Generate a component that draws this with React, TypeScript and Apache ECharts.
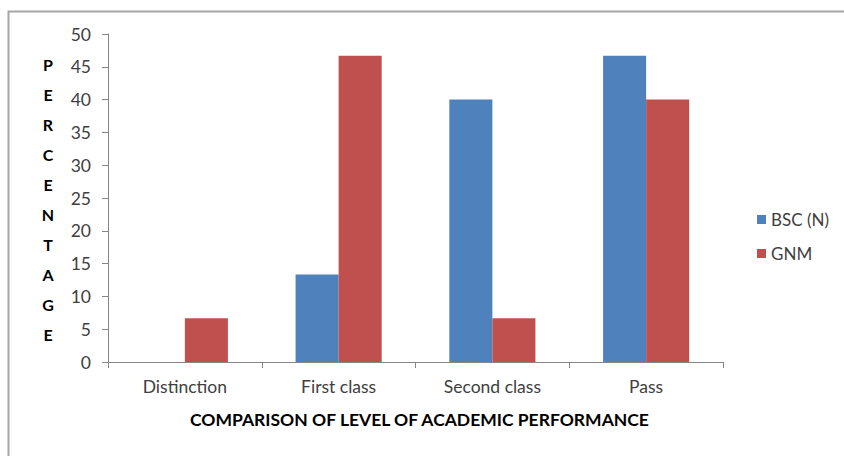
import React, { useEffect, useRef } from "react";
import * as echarts from "echarts";

const categories = ["Distinction", "First class", "Second class", "Pass"];
const bscValues = [0, 13.33, 40, 46.67];
const gnmValues = [6.67, 46.67, 6.67, 40];
const seriesNames = ["BSC (N)", "GNM"];
const yTicks = { min: 0, max: 50, interval: 5 };
const yAxisTitle = "PERCENTAGE";
const xAxisTitle = "COMPARISON OF LEVEL OF ACADEMIC PERFORMANCE";

export default function App() {
  const ref = useRef<HTMLDivElement>(null);
  useEffect(() => {
    if (!ref.current) return;
    const chart = echarts.init(ref.current, undefined, { renderer: "svg" });
    const font = "Lato, 'Open Sans', sans-serif";
    chart.setOption({
      animation: false,
      backgroundColor: "#ffffff",
      textStyle: { fontFamily: font },
      grid: { left: 108, right: 121, top: 34, bottom: 94, containLabel: false },
      legend: {
        orient: "vertical",
        left: 752,
        top: 206,
        itemWidth: 9,
        itemHeight: 9,
        itemGap: 17,
        icon: "rect",
        textStyle: { fontSize: 17, color: "#404040", fontFamily: font },
        data: seriesNames,
      },
      xAxis: {
        type: "category",
        data: categories,
        axisLine: { lineStyle: { color: "#868686", width: 1 } },
        axisTick: { show: true, alignWithLabel: false, length: 6, lineStyle: { color: "#868686" } },
        axisLabel: { fontSize: 17.5, color: "#404040", margin: 15, fontFamily: font },
        splitLine: { show: false },
      },
      yAxis: {
        type: "value",
        min: yTicks.min,
        max: yTicks.max,
        interval: yTicks.interval,
        axisLine: { show: true, lineStyle: { color: "#868686", width: 1 } },
        axisTick: { show: true, length: 6, lineStyle: { color: "#868686" } },
        axisLabel: { fontSize: 17.5, color: "#404040", margin: 17, fontFamily: font },
        splitLine: { show: false },
      },
      series: [
        {
          name: seriesNames[0],
          type: "bar",
          data: bscValues,
          barGap: "0%",
          barCategoryGap: "44%",
          itemStyle: { color: "#4F81BD" },
        },
        {
          name: seriesNames[1],
          type: "bar",
          data: gnmValues,
          barGap: "0%",
          barCategoryGap: "44%",
          itemStyle: { color: "#C0504D" },
        },
      ],
      graphic: [
        {
          type: "rect",
          shape: { x: 8.5, y: 11.5, width: 900, height: 500 },
          style: { fill: "none", stroke: "#a6a6a6", lineWidth: 2 },
          silent: true,
        },
        {
          type: "text",
          x: 48,
          y: 49,
          style: {
            text: yAxisTitle.split("").join("\n"),
            fontSize: 16,
            fontWeight: "bold",
            fontFamily: font,
            fill: "#000000",
            lineHeight: 30.1,
            align: "center",
            verticalAlign: "top",
          },
        },
        {
          type: "text",
          left: 190,
          top: 410,
          style: {
            text: xAxisTitle,
            fontSize: 17.5,
            fontWeight: "bold",
            fontFamily: font,
            fill: "#000000",
          },
        },
      ],
    });
    return () => chart.dispose();
  }, []);
  return (
    <div
      ref={ref}
      style={{ position: "fixed", left: 0, top: 0, width: 844, height: 456 }}
    />
  );
}
